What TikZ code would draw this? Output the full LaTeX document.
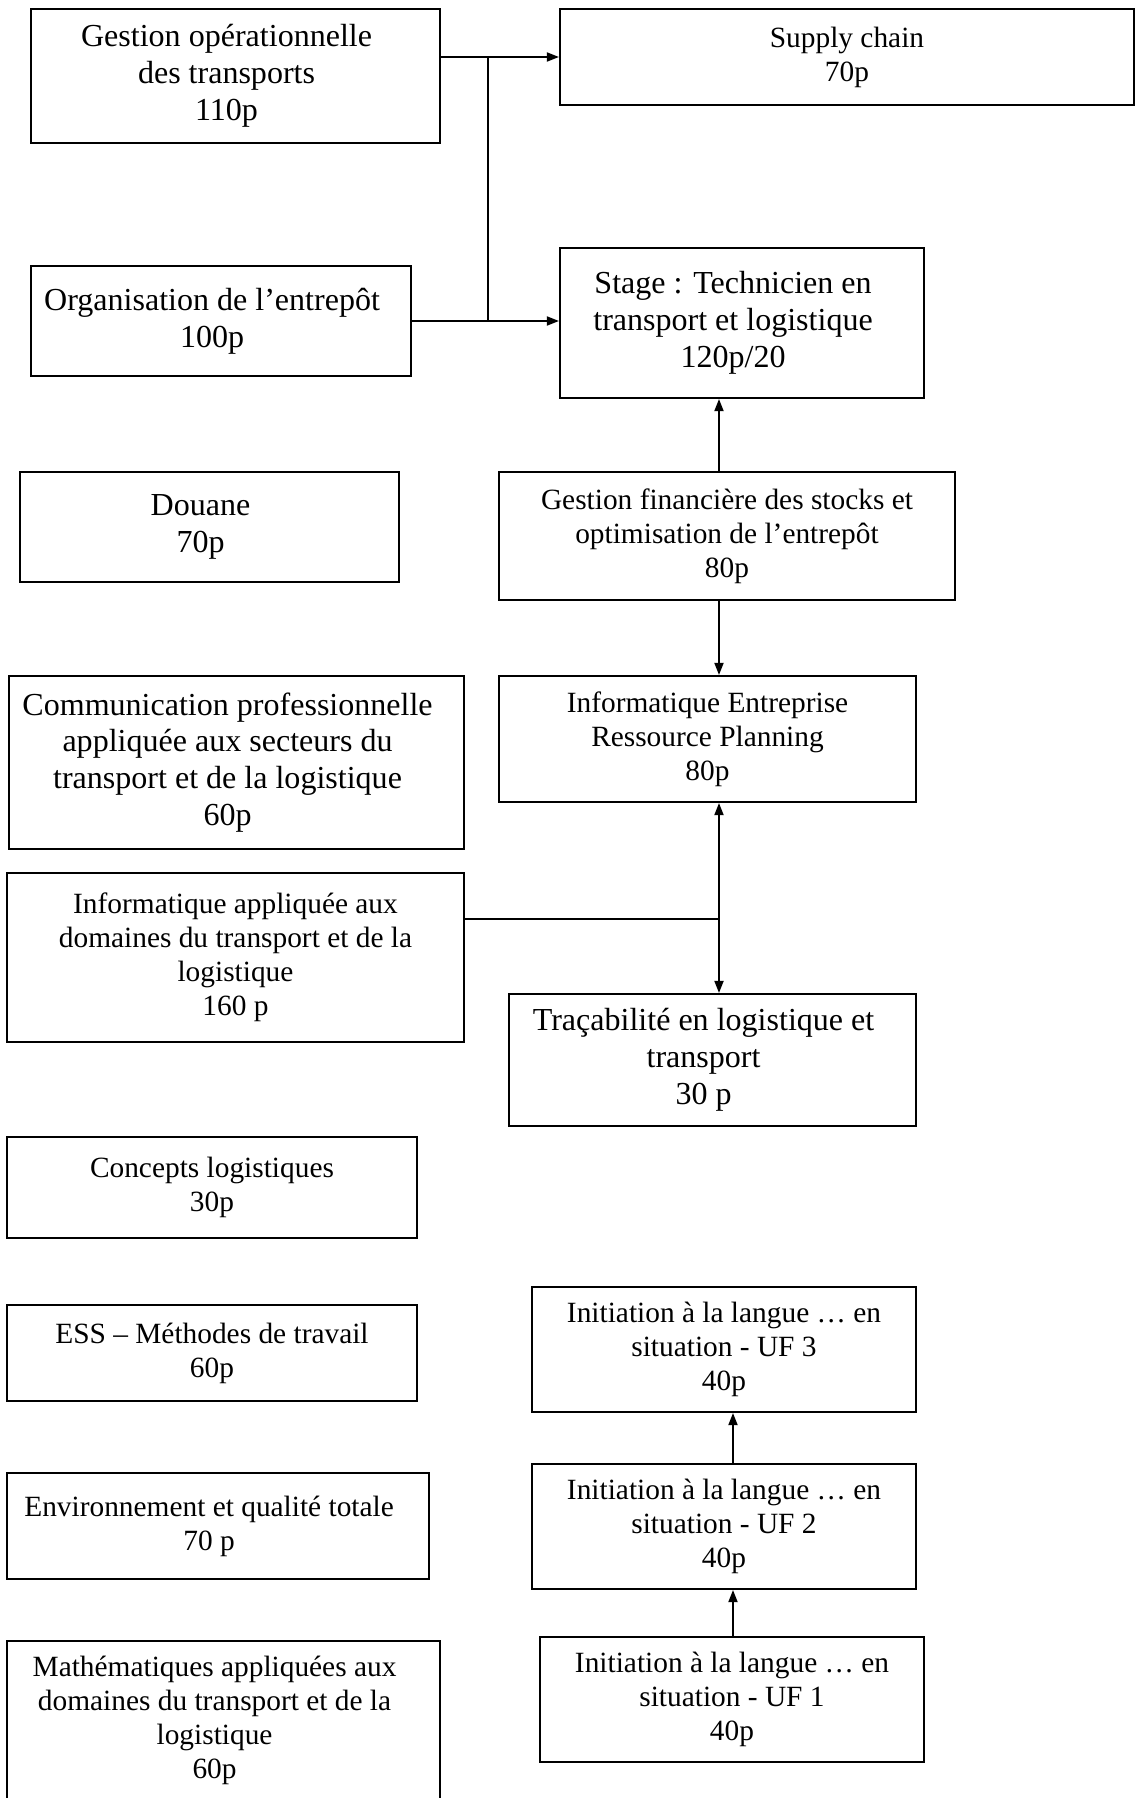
\documentclass[tikz,border=0pt]{standalone}
\usepackage{fontspec}
\setmainfont{Liberation Serif}
\usetikzlibrary{arrows.meta}

\begin{document}
\begin{tikzpicture}[x=0.3745pt, y=-0.3745pt, >={Triangle[length=4.5pt,width=3.4pt]},
  module/.style={draw, line width=0.8pt, align=center, inner sep=0pt},
  lg/.style={font=\fontsize{12}{13.8}\selectfont},
  sm/.style={font=\fontsize{11}{12.7}\selectfont},
  wh/.style 2 args={minimum width=#1*0.3745pt, minimum height=#2*0.3745pt},
  % text set a little left of the box centre
  lft/.style={text width=#1*0.3745pt, align=none,
    execute at begin node={\centering\rightskip=6.7pt plus 1fil}},
  link/.style={line width=0.6pt}]
\useasboundingbox (0,0) rectangle (1136,1798);

% left column
\node[module, lg, wh={409}{134}, lft=409] (gop) at (235.5,76) {Gestion opérationnelle\\des transports\\110p};
\node[module, lg, wh={380}{110}, lft=380] (orga) at (221,321) {Organisation de l’entrepôt\\100p};
\node[module, lg, wh={379}{110}, lft=379] (douane) at (209.5,527) {Douane\\70p};
\node[module, lg, wh={455}{173}, lft=455] (comm) at (236.5,762.5) {Communication professionnelle\\appliquée aux secteurs du\\transport et de la logistique\\60p};
\node[module, sm, wh={457}{169}] (infoapp) at (235.5,957.5) {Informatique appliquée aux\\domaines du transport et de la\\logistique\\160 p};
\node[module, sm, wh={410}{101}] (concepts) at (212,1187.5) {Concepts logistiques\\30p};
\node[module, sm, wh={410}{96}] (ess) at (212,1353) {ESS – Méthodes de travail\\60p};
\node[module, sm, wh={422}{106}, lft=422] (env) at (218,1526) {Environnement et qualité totale\\70 p};
\node[module, sm, wh={433}{159}, lft=433] (math) at (223.5,1720.5) {Mathématiques appliquées aux\\domaines du transport et de la\\logistique\\60p};

% right column
\node[module, sm, wh={574}{96}] (supply) at (847,57) {Supply chain\\70p};
\node[module, lg, wh={364}{150}, lft=364] (stage) at (742,323) {Stage : Technicien en\\transport et logistique\\120p/20};
\node[module, sm, wh={456}{128}] (gfin) at (727,536) {Gestion financière des stocks et\\optimisation de l’entrepôt\\80p};
\node[module, sm, wh={417}{126}] (erp) at (707.5,739) {Informatique Entreprise\\Ressource Planning\\80p};
\node[module, lg, wh={407}{132}, lft=407] (trac) at (712.5,1060) {Traçabilité en logistique et\\transport\\30 p};
\node[module, sm, wh={384}{125}] (uf3) at (724,1349.5) {Initiation à la langue … en\\situation - UF 3\\40p};
\node[module, sm, wh={384}{125}] (uf2) at (724,1526.5) {Initiation à la langue … en\\situation - UF 2\\40p};
\node[module, sm, wh={384}{125}] (uf1) at (732,1699.5) {Initiation à la langue … en\\situation - UF 1\\40p};

% connectors
\coordinate (j1) at (488,57);
\coordinate (spine) at (719,0);
\coordinate (j2) at (719,919);
\coordinate (spine2) at (733,0);

\draw[link, ->] (gop.east |- supply.west) -- (supply.west);
\draw[link] (j1) -- (j1 |- orga.east);
\draw[link, ->] (orga.east) -- (orga.east -| stage.west);
\draw[link, ->] (gfin.north -| spine) -- (stage.south -| spine);
\draw[link, ->] (gfin.south -| spine) -- (erp.north -| spine);
\draw[link, <->] (erp.south -| spine) -- (trac.north -| spine);
\draw[link] (infoapp.east |- j2) -- (j2);
\draw[link, ->] (uf1.north -| spine2) -- (uf2.south -| spine2);
\draw[link, ->] (uf2.north -| spine2) -- (uf3.south -| spine2);
\end{tikzpicture}
\end{document}
